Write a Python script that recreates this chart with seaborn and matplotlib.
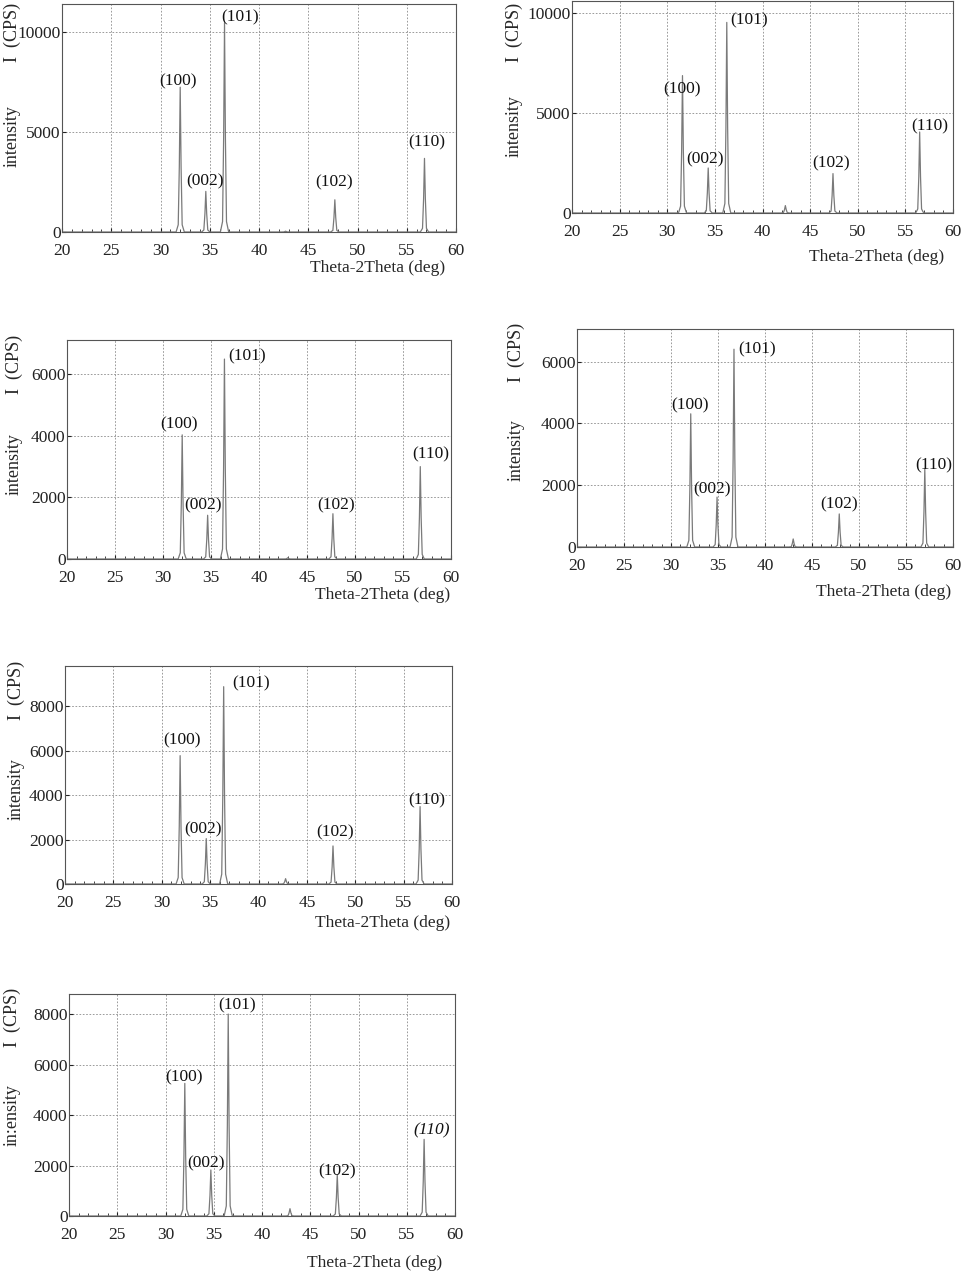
import numpy as np
import pandas as pd
import matplotlib.pyplot as plt
import seaborn as sns

# Miller indices labelled on every pattern
hkl = ["(100)", "(002)", "(101)", "(102)", "(110)"]

# peak positions (2theta, deg) and heights (CPS)
# order: (100), (002), (101), small 43 deg bump, (102), (110)
pos_a = [32.0, 34.6, 36.5, 42.7, 47.7, 56.8]
cps_a = [7240, 2030, 10460, 40, 1610, 3680]
pos_b = [31.6, 34.3, 36.25, 42.4, 47.4, 56.5]
cps_b = [6870, 2250, 9530, 370, 1970, 4050]
pos_c = [32.0, 34.65, 36.4, 43.0, 47.7, 56.8]
cps_c = [4030, 1420, 6490, 40, 1470, 3000]
pos_d = [32.1, 34.9, 36.7, 43.0, 47.9, 57.0]
cps_d = [4310, 1615, 6400, 260, 1070, 2520]
pos_e = [31.9, 34.6, 36.4, 42.8, 47.7, 56.7]
cps_e = [5770, 2040, 8870, 240, 1710, 3480]
pos_f = [32.0, 34.7, 36.5, 42.9, 47.8, 56.8]
cps_f = [5260, 1825, 8010, 290, 1630, 3040]

yticks_a = [0, 5000, 10000]
yticks_c = [0, 2000, 4000, 6000]
yticks_e = [0, 2000, 4000, 6000, 8000]

# line shape of one reflection (offset in deg, fraction of height)
shape_dx = [-0.42, -0.2, -0.09, 0.0, 0.09, 0.2, 0.42]
shape_fr = [0.0, 0.05, 0.45, 1.0, 0.45, 0.05, 0.0]

W, H = 963, 1272
panels = [
    # axes box (l, r, t, b) in px, label centres in data units, axis-title spots in px
    dict(pos=pos_a, cps=cps_a, yt=yticks_a, ymax=11400, box=(62, 456, 4, 232),
         lab=[(31.8, 7540), (34.5, 2540), (38.1, 10730), (47.6, 2460), (57.05, 4460)],
         ylx=12, yly=(32, 136), xl=(378, 268)),
    dict(pos=pos_b, cps=cps_b, yt=yticks_a, ymax=10600, box=(572, 953, 1, 213),
         lab=[(31.55, 6200), (33.95, 2700), (38.6, 9630), (47.2, 2500), (57.6, 4330)],
         ylx=514, yly=(32, 126), xl=(877, 257)),
    dict(pos=pos_c, cps=cps_c, yt=yticks_c, ymax=7110, box=(67, 451, 340, 559),
         lab=[(31.7, 4380), (34.2, 1740), (38.75, 6570), (48.05, 1740), (57.9, 3400)],
         ylx=14, yly=(364, 464), xl=(383, 595)),
    dict(pos=pos_d, cps=cps_d, yt=yticks_c, ymax=7055, box=(577, 953, 329, 547),
         lab=[(32.0, 4580), (34.4, 1870), (39.2, 6380), (47.9, 1390), (58.0, 2640)],
         ylx=516, yly=(352, 450), xl=(884, 592)),
    dict(pos=pos_e, cps=cps_e, yt=yticks_e, ymax=9800, box=(65, 452, 666, 884),
         lab=[(32.1, 6440), (34.3, 2470), (39.2, 9020), (47.9, 2320), (57.4, 3775)],
         ylx=16, yly=(690, 789), xl=(383, 923)),
    dict(pos=pos_f, cps=cps_f, yt=yticks_e, ymax=8806, box=(69, 455, 994, 1216),
         lab=[(31.9, 5500), (34.2, 2090), (37.4, 8370), (47.8, 1750), (57.55, 3410)],
         ylx=12, yly=(1017, 1115), xl=(375, 1263)),
]
intensity_words = ["intensity"] * 5 + ["in:ensity"]

sns.set_style("ticks")
plt.rcParams["font.family"] = ["Liberation Serif", "DejaVu Serif"]
plt.rcParams["font.size"] = 12

fig = plt.figure(figsize=(W / 100, H / 100), dpi=100)

for i, p in enumerate(panels):
    l, r, t, b = p["box"]
    ax = fig.add_axes([l / W, 1 - b / H, (r - l) / W, (b - t) / H])

    xs = [20.0]
    ys = [0.0]
    for x0, h in zip(p["pos"], p["cps"]):
        for dx, fr in zip(shape_dx, shape_fr):
            xs.append(x0 + dx)
            ys.append(h * fr)
    xs.append(60.0)
    ys.append(0.0)
    df = pd.DataFrame({"two_theta": xs, "cps": ys})
    sns.lineplot(data=df, x="two_theta", y="cps", ax=ax, color="#7a7a7a",
                 lw=0.9, estimator=None)

    ax.set_xlim(20, 60)
    ax.set_ylim(0, p["ymax"])
    ax.set_xticks(range(20, 61, 5))
    ax.set_xticks(range(20, 61, 1), minor=True)
    ax.set_yticks(p["yt"])
    ax.grid(True, which="major", color="#8a8a8a", ls=(0, (2, 2)), lw=0.6)
    ax.tick_params(which="both", direction="in", labelsize=12.5, colors="#222222")
    ax.tick_params(which="major", length=3)
    ax.tick_params(axis="x", pad=8)
    ax.tick_params(axis="y", pad=1)
    ax.tick_params(which="minor", length=2)
    for s in ax.spines.values():
        s.set_color("#555555")
        s.set_linewidth(0.8)
    ax.set_xlabel("")
    ax.set_ylabel("")

    for j, (lx, ly) in enumerate(p["lab"]):
        style = "italic" if (i == 5 and j == 4) else "normal"
        ax.text(lx, ly, hkl[j], ha="center", va="center", fontsize=12.5,
                fontstyle=style, color="#111111")

    fig.text(p["ylx"] / W, 1 - p["yly"][0] / H, "I  (CPS)", rotation=90,
             ha="center", va="center", fontsize=13)
    fig.text(p["ylx"] / W, 1 - p["yly"][1] / H, intensity_words[i], rotation=90,
             ha="center", va="center", fontsize=13)
    fig.text(p["xl"][0] / W, 1 - p["xl"][1] / H, "Theta-2Theta (deg)",
             ha="center", va="center", fontsize=12.5)

fig.savefig("out.png", dpi=100)
